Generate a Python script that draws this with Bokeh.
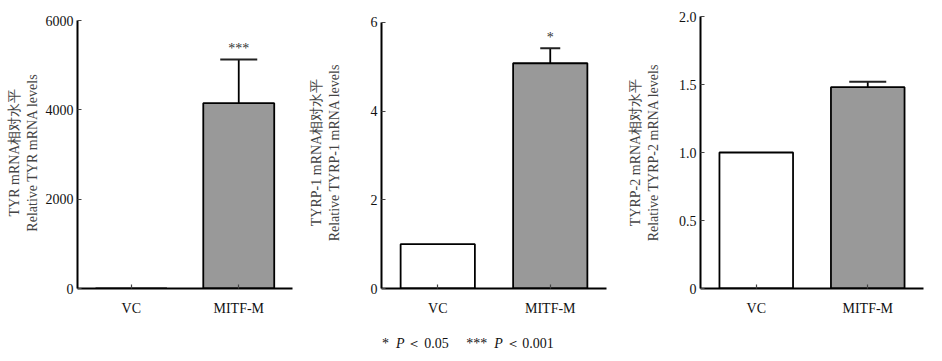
from bokeh.plotting import figure
from bokeh.models import FactorRange, Range1d, FixedTicker, ColumnDataSource, Whisker, TeeHead, Div
from bokeh.layouts import row, column
from bokeh.embed import file_html
from bokeh.resources import INLINE
from bokeh.core.properties import value

categories = ["VC", "MITF-M"]
bar_colors = ["#ffffff", "#999999"]

tyr_values = [1, 4150]
tyr_upper = [1, 5130]
tyr_sig = ["", "***"]
tyr_ticks = [0, 2000, 4000, 6000]
tyr_label = "TYR mRNA相对水平\nRelative TYR mRNA levels"

tyrp1_values = [1.0, 5.08]
tyrp1_upper = [1.0, 5.42]
tyrp1_sig = ["", "*"]
tyrp1_ticks = [0, 2, 4, 6]
tyrp1_label = "TYRP-1 mRNA相对水平\nRelative TYRP-1 mRNA levels"

tyrp2_values = [1.0, 1.48]
tyrp2_upper = [1.0, 1.52]
tyrp2_sig = ["", ""]
tyrp2_ticks = [0, 0.5, 1.0, 1.5, 2.0]
tyrp2_tick_labels = {0: "0", 0.5: "0.5", 1.0: "1.0", 1.5: "1.5", 2.0: "2.0"}
tyrp2_label = "TYRP-2 mRNA相对水平\nRelative TYRP-2 mRNA levels"

FONT = "Liberation Serif"
TOP, FH, BOTTOM = 16, 272, 40


def make_panel(vals, upper, sig, ticks, label, ymax, yend, left, fw, right,
               cap, label_standoff, overrides=None):
    p = figure(x_range=FactorRange(factors=categories, range_padding=0),
               y_range=Range1d(0, yend),
               width=left + fw + right, height=TOP + FH + BOTTOM,
               min_border_left=left, min_border_right=right,
               min_border_top=TOP, min_border_bottom=BOTTOM,
               output_backend="svg", toolbar_location=None)
    p.outline_line_color = None
    p.xgrid.grid_line_color = None
    p.ygrid.grid_line_color = None

    src = ColumnDataSource(dict(x=categories, top=vals, color=bar_colors))
    p.vbar(x="x", top="top", width=0.66, source=src, fill_color="color",
           line_color="black", line_width=1.8)

    err_src = ColumnDataSource(dict(x=[categories[1]], lower=[vals[1]], upper=[upper[1]]))
    w = Whisker(base="x", lower="lower", upper="upper", source=err_src,
                line_color="black", line_width=1.8,
                upper_head=TeeHead(size=cap, line_width=2, line_color="#222222"),
                lower_head=None)
    p.add_layout(w)

    p.text(x=categories, y=upper, text=sig, text_align="center", text_baseline="bottom",
           y_offset=-3, text_font=value(FONT), text_font_size="14px", text_color="#333333")

    p.yaxis.ticker = FixedTicker(ticks=ticks)
    p.yaxis.bounds = (0, ymax)
    if overrides:
        p.yaxis.major_label_overrides = overrides
    p.yaxis.minor_tick_line_color = None
    for ax in (p.xaxis[0], p.yaxis[0]):
        ax.axis_line_width = 2
        ax.axis_line_color = "black"
        ax.major_tick_in = 4
        ax.major_tick_out = 0
        ax.major_tick_line_color = "#444444"
        ax.major_tick_line_width = 1.2
        ax.major_label_text_font = FONT
        ax.major_label_text_font_size = "14px"
        ax.major_label_text_color = "#111111"
    p.xaxis.major_label_standoff = 12
    p.yaxis.major_label_standoff = 4
    p.yaxis.axis_label = label
    p.yaxis.axis_label_text_font = FONT
    p.yaxis.axis_label_text_font_size = "14px"
    p.yaxis.axis_label_text_font_style = "normal"
    p.yaxis.axis_label_text_color = "#444444"
    p.yaxis.axis_label_text_line_height = 1.2
    p.yaxis.axis_label_standoff = label_standoff
    return p


p1 = make_panel(tyr_values, tyr_upper, tyr_sig, tyr_ticks, tyr_label, 6000, 6090,
                left=77, fw=215, right=8, cap=37, label_standoff=3)
p2 = make_panel(tyrp1_values, tyrp1_upper, tyrp1_sig, tyrp1_ticks, tyrp1_label, 6, 6.135,
                left=81, fw=225, right=4, cap=20, label_standoff=26)
p3 = make_panel(tyrp2_values, tyrp2_upper, tyrp2_sig, tyrp2_ticks, tyrp2_label, 2.0, 2.0,
                left=90, fw=223, right=10, cap=37, label_standoff=15,
                overrides=tyrp2_tick_labels)

note = Div(text="*&nbsp;&nbsp;<i>P</i>&thinsp;＜&thinsp;0.05&nbsp;&nbsp;&nbsp;&nbsp;&nbsp;***&nbsp;&nbsp;<i>P</i>&thinsp;＜&thinsp;0.001",
           width=200, height=26,
           styles={"font-family": "'Liberation Serif'", "font-size": "14px",
                   "color": "#111111", "margin-left": "382px", "margin-top": "6px",
                   "white-space": "nowrap"})

layout = column(row(p1, p2, p3), note)

with open("out.html", "w") as f:
    f.write(file_html(layout, INLINE))
